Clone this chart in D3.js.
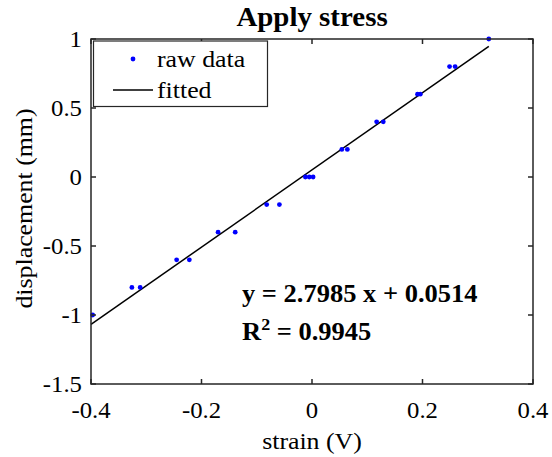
<!DOCTYPE html>
<html><head><meta charset="utf-8">
<script src="https://cdn.jsdelivr.net/npm/d3@7"></script>
<style>body{margin:0;background:#fff;} text{font-family:"Liberation Serif","Times New Roman",serif;fill:#000;}</style>
</head><body>
<svg id="c" width="552" height="457"></svg>
<script>
const strainX = [-0.397,-0.326,-0.311,-0.245,-0.222,-0.170,-0.139,-0.082,-0.059,-0.012,-0.005,0.002,0.054,0.064,0.117,0.129,0.191,0.196,0.249,0.259,0.320];
const dispY   = [-1.0,-0.8,-0.8,-0.6,-0.6,-0.4,-0.4,-0.2,-0.2,0,0,0,0.2,0.2,0.4,0.4,0.6,0.6,0.8,0.8,1.0];
const fitSlope = 2.7985, fitIntercept = 0.0514;
const fitRange = [-0.4, 0.32];
const xTicks = [-0.4,-0.2,0,0.2,0.4];
const yTicks = [-1.5,-1,-0.5,0,0.5,1];
const xDomain = [-0.4,0.4], yDomain = [-1.5,1];

const svg = d3.select("#c");
const L=91,R=533,T=39,B=384;
const x = d3.scaleLinear().domain(xDomain).range([L,R]);
const y = d3.scaleLinear().domain(yDomain).range([B,T]);
const axisCol="#262626";
const SX=1.1;

function hText(g, tx, ty, str, size, anchor, weight, sx){
  const t = g.append("text").attr("transform",`translate(${tx},${ty}) scale(${sx||SX},1)`)
    .attr("font-size",size).attr("text-anchor",anchor||"start");
  if(weight) t.attr("font-weight",weight);
  t.text(str);
  return t;
}

// fitted line
const fitData = fitRange.map(v=>[v, fitSlope*v+fitIntercept]);
svg.append("path").datum(fitData)
  .attr("d", d3.line().x(d=>x(d[0])).y(d=>y(d[1])))
  .attr("stroke","#000").attr("stroke-width",1.5).attr("fill","none");

// points
svg.append("g").selectAll("circle").data(strainX.map((v,i)=>[v,dispY[i]])).join("circle")
  .attr("cx",d=>x(d[0])).attr("cy",d=>y(d[1])).attr("r",2.4).attr("fill","#0000ff");

// axes box
const fmt = d=>String(d);
const ax = svg.append("g").attr("stroke",axisCol).attr("stroke-width",1.5);
ax.append("rect").attr("x",L).attr("y",T).attr("width",R-L).attr("height",B-T).attr("fill","none");
xTicks.forEach(v=>{
  ax.append("line").attr("x1",x(v)).attr("x2",x(v)).attr("y1",B).attr("y2",B-5);
  ax.append("line").attr("x1",x(v)).attr("x2",x(v)).attr("y1",T).attr("y2",T+5);
});
yTicks.forEach(v=>{
  ax.append("line").attr("y1",y(v)).attr("y2",y(v)).attr("x1",L).attr("x2",L+5);
  ax.append("line").attr("y1",y(v)).attr("y2",y(v)).attr("x1",R).attr("x2",R-5);
});
const tg = svg.append("g");
xTicks.forEach(v=>hText(tg, x(v), B+34, fmt(v), 22.5, "middle"));
yTicks.forEach(v=>hText(tg, L-9, y(v)+8, fmt(v), 22.5, "end"));

// axis labels
hText(svg, (L+R)/2, 449, "strain (V)", 23.5, "middle");
svg.append("text").attr("transform",`translate(32,${(T+B)/2 - 3}) rotate(-90) scale(${SX},1)`)
  .attr("font-size",23.5).attr("text-anchor","middle").text("displacement (mm)");
// title
hText(svg, (L+R)/2, 26, "Apply stress", 26.3, "middle", "bold");

// annotation
hText(svg, 242, 302, "y = 2.7985 x + 0.0514", 25, "start", "bold", 1.06);
const r2 = svg.append("text").attr("transform",`translate(242,340) scale(1.06,1)`).attr("font-size",25).attr("font-weight","bold");
r2.append("tspan").text("R");
r2.append("tspan").attr("dy",-10).attr("font-size",17).text("2");
r2.append("tspan").attr("dy",10).text(" = 0.9945");

// legend
const lg = svg.append("g");
lg.append("rect").attr("x",93.5).attr("y",41).attr("width",174).attr("height",65.5)
  .attr("fill","#fff").attr("stroke",axisCol).attr("stroke-width",1.2);
lg.append("circle").attr("cx",133).attr("cy",59).attr("r",2.4).attr("fill","#0000ff");
hText(lg, 157, 67, "raw data", 23.5, "start");
lg.append("line").attr("x1",113).attr("x2",153).attr("y1",90).attr("y2",90).attr("stroke","#000").attr("stroke-width",1.5);
hText(lg, 157, 98, "fitted", 23.5, "start");
</script>
</body></html>
